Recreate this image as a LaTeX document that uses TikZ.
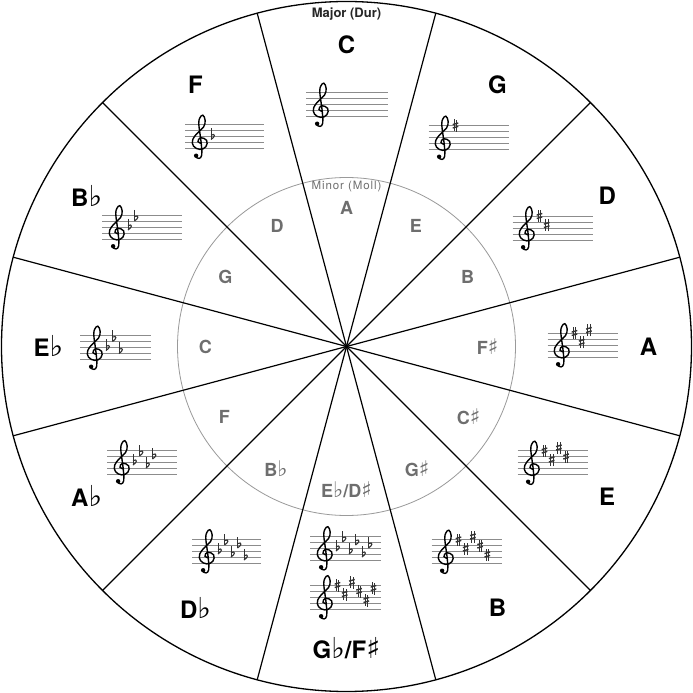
\documentclass[tikz,border=0pt]{standalone}
\usepackage{fontspec}
\setmainfont{TeX Gyre Heros}
\newfontfamily\symfont[Scale=1.2]{DejaVu Sans}
\newfontfamily\spacedfont[LetterSpace=8]{TeX Gyre Heros}
\usetikzlibrary{calc}

\definecolor{minorgray}{HTML}{6E6E6E}
\definecolor{ringgray}{HTML}{9A9A9A}
\definecolor{staffgray}{HTML}{8C8C8C}
\definecolor{accgray}{HTML}{333333}

\newcommand{\flatsym}{{\symfont ♭}}
\newcommand{\sharpsym}{{\symfont ♯}}

\tikzset{
  spoke/.style={line width=1.2pt},
  majorlabel/.style={font=\fontsize{24}{24}\selectfont\bfseries},
  minorlabel/.style={font=\fontsize{18}{18}\selectfont\bfseries, text=minorgray},
  staffline/.style={draw=staffgray, line width=0.8pt},
  gclef/.pic={
    \begin{scope}[x=7.5pt,y=6pt]
      \draw[line width=1.4pt, line cap=round] plot[smooth, tension=0.7] coordinates {
        (1.45,0.85) (1.0,1.15) (1.35,1.8) (2.15,1.35) (2.05,0.3) (1.25,-0.15)
        (0.4,0.4) (0.3,1.5) (0.95,2.6) (1.75,3.6) (1.95,4.7) (1.65,5.55)
        (1.25,5.1) (1.1,4.2) (1.25,2.6) (1.45,0.6) (1.5,-1.1) (1.15,-1.65) (0.75,-1.45)};
      \fill (0.75,-1.2) circle (2.2pt);
    \end{scope}
  },
  sharpsign/.pic={
    \draw[accgray, line width=0.7pt] (-1.2,-6) -- (-1.2,6);
    \draw[accgray, line width=0.7pt] (1.2,-6.5) -- (1.2,5.5);
    \draw[accgray, line width=1.4pt] (-2.8,-2.5) -- (2.8,-0.9);
    \draw[accgray, line width=1.4pt] (-2.8,0.9) -- (2.8,2.5);
  },
  flatsign/.pic={
    \draw[accgray, line width=0.7pt] (-1.5,8) -- (-1.5,-3);
    \draw[accgray, line width=1.1pt] (-1.5,-3) .. controls (2.6,-0.6) and (3.4,3.6) .. (-1.5,1.4);
  }
}

% staff with clef: center, width
\newcommand{\staff}[2]{%
  \foreach \l in {-2,...,2}
    \draw[staffline] ($#1+(-#2/2,\l*6)$) -- ++(#2,0);
  \pic at ($#1+(-#2/2+5,-12)$) {gclef};
}
% key signature: center, width, sign, step, positions
\newcommand{\keysig}[5]{%
  \foreach \p [count=\i] in {#5}
    \pic at ($#1+({-#2/2+27+(\i-1)*#4},{-12+\p*3})$) {#3};
}

\begin{document}
\begin{tikzpicture}[x=1pt,y=1pt]
\useasboundingbox (-346.5,-346.5) rectangle (346.5,346.5);
\fill[white] (-346.5,-346.5) rectangle (346.5,346.5);

% rings and spokes
\draw[ringgray, line width=0.8pt] (0,0) circle (169);
\foreach \a in {15,45,...,165}
  \draw[spoke] (\a:345) -- (\a+180:345);
\draw[line width=1.3pt] (0,0) circle (345);
\fill (0,0) circle (2pt);

% major keys
\node[font=\fontsize{13}{13}\selectfont\bfseries, text=black!85] (major) at (0,332) {Major (Dur)};
\node[majorlabel] (majC) at (90:302) {C};
\node[majorlabel] (majG) at (60:302) {G};
\node[majorlabel] (majD) at (30:301) {D};
\node[majorlabel] (majA) at (0:302) {A};
\node[majorlabel] (majE) at (-30:301) {E};
\node[majorlabel] (majB) at (-60:302) {B};
\node[majorlabel] (majGb) at (-90:302) {G\flatsym/F\sharpsym};
\node[majorlabel] (majDb) at (-120:302) {D\flatsym};
\node[majorlabel] (majAb) at (-150:300) {A\flatsym};
\node[majorlabel] (majEb) at (180:298) {E\flatsym};
\node[majorlabel] (majBb) at (150:300) {B\flatsym};
\node[majorlabel] (majF) at (120:302) {F};

% minor keys
\node[font=\fontsize{11.5}{12}\spacedfont, text=minorgray] (minor) at (0,160) {Minor (Moll)};
\node[minorlabel] (minA) at (90:139) {A};
\node[minorlabel] (minE) at (60:139) {E};
\node[minorlabel] (minB) at (30:140) {B};
\node[minorlabel] (minFs) at (0:141) {F\sharpsym};
\node[minorlabel] (minCs) at (-30:141) {C\sharpsym};
\node[minorlabel] (minGs) at (-60:141) {G\sharpsym};
\node[minorlabel] (minEb) at (-90:143) {E\flatsym/D\sharpsym};
\node[minorlabel] (minBb) at (-120:141) {B\flatsym};
\node[minorlabel] (minF) at (-150:141) {F};
\node[minorlabel] (minC) at (180:141) {C};
\node[minorlabel] (minG) at (150:140) {G};
\node[minorlabel] (minD) at (120:139) {D};

% staves
\staff{(0.5,242)}{81}
\staff{(122,209)}{80}    \keysig{(122,209)}{80}{sharpsign}{7.2}{8}
\staff{(206,118.5)}{80}  \keysig{(206,118.5)}{80}{sharpsign}{7.2}{8,5}
\staff{(236,1.5)}{70}    \keysig{(236,1.5)}{70}{sharpsign}{7.2}{8,5,9}
\staff{(206,-116)}{70}   \keysig{(206,-116)}{70}{sharpsign}{7.2}{8,5,9,6}
\staff{(120,-205)}{70}   \keysig{(120,-205)}{70}{sharpsign}{7.2}{8,5,9,6,3}
\staff{(-1,-250.5)}{70}  \keysig{(-1,-250.5)}{70}{sharpsign}{7.2}{8,5,9,6,3,7}
\staff{(-1,-201.5)}{70}  \keysig{(-1,-201.5)}{70}{flatsign}{6.5}{4,7,3,6,2,5}
\staff{(-119.5,-204.5)}{69} \keysig{(-119.5,-204.5)}{69}{flatsign}{6.5}{4,7,3,6,2}
\staff{(-204,-115.5)}{70}   \keysig{(-204,-115.5)}{70}{flatsign}{6.5}{4,7,3,6}
\staff{(-230.5,-1)}{71}     \keysig{(-230.5,-1)}{71}{flatsign}{6.5}{4,7,3}
\staff{(-204,119.5)}{80}    \keysig{(-204,119.5)}{80}{flatsign}{6.5}{4,7}
\staff{(-121.5,210)}{79}    \keysig{(-121.5,210)}{79}{flatsign}{6.5}{4}
\end{tikzpicture}
\end{document}
